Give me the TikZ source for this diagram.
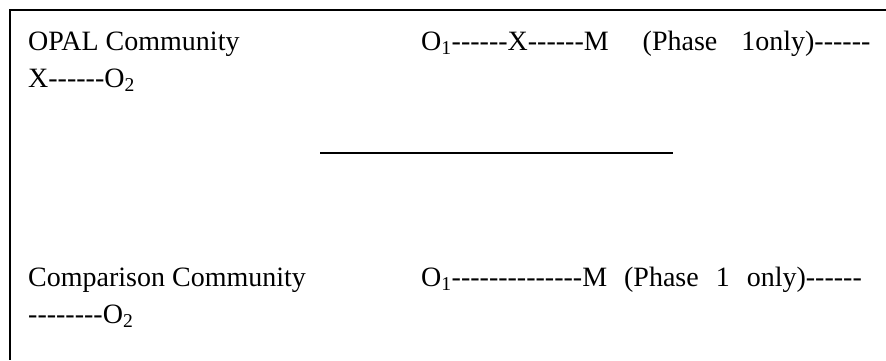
\documentclass[tikz,border=0pt]{standalone}
\usepackage{fontspec}
\setmainfont{Liberation Serif}[Ligatures=TeXOff]
\usepackage{tikz}

\begin{document}
\begin{tikzpicture}[x=1pt,y=-1pt,
    txt/.style={anchor=base west, inner sep=0pt, font=\fontsize{28}{34}\selectfont}]
  \useasboundingbox (0,0) rectangle (886,360);
  % Frame
  \draw[line width=2pt] (886,10) -- (10,10) -- (10,360);

  % OPAL row
  \node[txt] (opal) at (28,50) {OPAL Community};
  \node[txt] (opalseq) at (421,50) {O\textsubscript{1}------X------M\hspace{34pt}(Phase\hspace{24pt}1only)------};
  \node[txt] (opalend) at (28,87) {X------O\textsubscript{2}};

  % Separator
  \coordinate (sepL) at (320,153);
  \coordinate (sepR) at (673,153);
  \draw[line width=2pt] (sepL) -- (sepR);

  % Comparison row
  \node[txt] (comp) at (28,286) {Comparison Community};
  \node[txt] (compseq) at (421,286) {O\textsubscript{1}--------------M\hspace{17pt}(Phase\hspace{17pt}1\hspace{17pt}only)------};
  \node[txt] (compend) at (28,323) {--------O\textsubscript{2}};
\end{tikzpicture}
\end{document}
